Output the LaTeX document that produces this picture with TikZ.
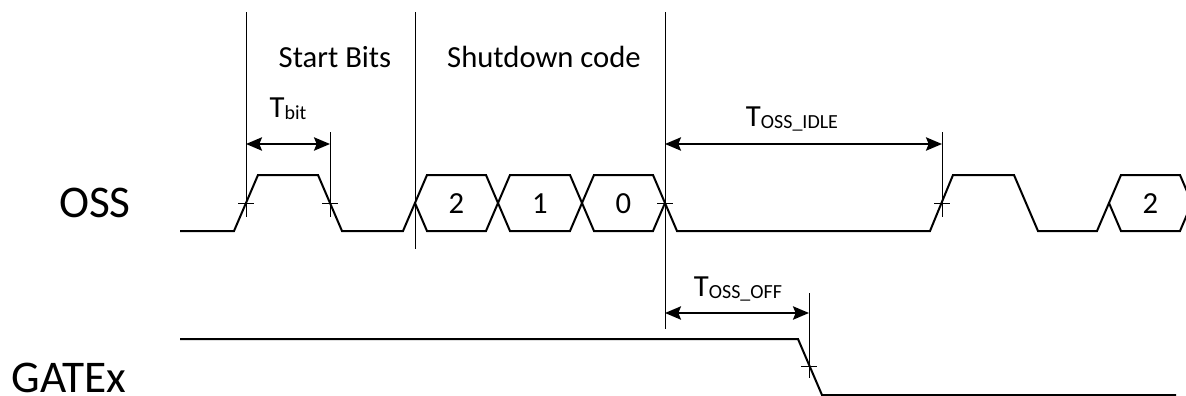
\documentclass[tikz,border=0pt]{standalone}
\usepackage{fontspec}
\setmainfont{Carlito}
\usetikzlibrary{positioning, calc, arrows.meta}

\newcommand{\tsub}[1]{T\raisebox{-1.5pt}{\fontsize{15}{15}\selectfont #1}}

\begin{document}
\begin{tikzpicture}[x=0.75pt, y=-0.75pt, line width=1.5pt]
	\tikzstyle{guide} = [line width=0.5pt];
	\tikzstyle{lbl} = [font=\fontsize{23}{23}\selectfont, anchor=base, inner sep=0pt];
	\tikzstyle{signame} = [font=\fontsize{34}{34}\selectfont, anchor=base, inner sep=0pt];
	\tikzstyle{timing} = [line width=1.5pt, {Stealth[length=12pt, width=10pt, inset=2pt]}-{Stealth[length=12pt, width=10pt, inset=2pt]}];
	
	\clip (0,0) rectangle (1186,396);
	
	\node[signame] (oss) at (95,217) {OSS};
	\node[signame] (gatex) at (69,392) {GATEx};
	
	\node[lbl] (start) at (335,67) {Start Bits};
	\node[lbl] (code) at (544,67) {Shutdown code};
	
	% guide lines
	\foreach \n/\x/\ya/\yb in {st/246/12/217, sc/415/12/249, end/665/12/329, tb/330/132/217, idle/942/132/217, off/809/293/378}
	{
		\coordinate (\n-t) at (\x,\ya);
		\coordinate (\n-b) at (\x,\yb);
		\draw[guide] (\n-t) -- (\n-b);
	}
	
	\foreach \x/\y in {246/203, 330/203, 665/203, 942/203, 809/366}
	{
		\draw[guide] (\x-8,\y) -- (\x+8,\y);
	}
	
	\coordinate (row1) at (0,144);
	\coordinate (row2) at (0,313);
	
	\draw[timing] (st-t |- row1) -- (tb-t |- row1);
	\draw[timing] (end-t |- row1) -- (idle-t |- row1);
	\draw[timing] (end-t |- row2) -- (off-t |- row2);
	
	\node[lbl] (tbit) at (288,117) {\tsub{bit}};
	\node[lbl] (tidle) at (792,126) {\tsub{OSS\_IDLE}};
	\node[lbl] (toff) at (738,296) {\tsub{OSS\_OFF}};
	
	% OSS
	\draw (180,231) -- (234,231) -- (258,175) -- (318,175) -- (342,231) -- (403,231) -- (415,203);
	\draw (665,203) -- (677,231) -- (930,231) -- (953,175) -- (1014,175) -- (1038,231) -- (1097,231) -- (1109,203);
	
	\foreach \a/\b/\v in {415/498/2, 498/582/1, 582/665/0, 1109/1192/2}
	{
		\draw (\a,203) -- (\a+12,175) -- (\b-12,175) -- (\b,203) -- (\b-12,231) -- (\a+12,231) -- cycle;
		\node[lbl] (cell\a) at ({(\a+\b)/2},213) {\v};
	}
	
	% GATEx
	\draw (180,339) -- (798,339) -- (822,395) -- (1176,395);
	
\end{tikzpicture}
\end{document}
